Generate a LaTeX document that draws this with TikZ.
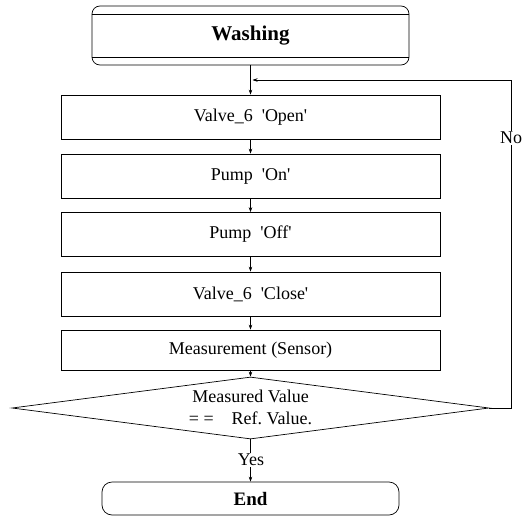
\documentclass[tikz,border=0pt]{standalone}
\usepackage{fontspec}
\setmainfont{Liberation Serif}
\usetikzlibrary{arrows.meta,shapes.geometric}
\newcommand{\sq}{\textquotesingle}
\begin{document}
\frenchspacing
\begin{tikzpicture}[x=1pt,y=-1pt,
  box/.style={draw, line width=0.7pt, minimum width=379pt, minimum height=44pt, inner sep=0pt,
    font=\fontsize{18}{22}\selectfont},
  arr/.style={-{Stealth[length=5pt,width=3.5pt]}, line width=0.6pt},
  lbl/.style={fill=white, inner sep=1.5pt, font=\fontsize{18}{22}\selectfont}]
\useasboundingbox (0,0) rectangle (529,516);
\node[draw, line width=0.7pt, rounded corners=8pt, minimum width=317pt, minimum height=59pt, inner sep=0pt,
  font=\fontsize{21}{24}\selectfont\bfseries] (wash) at (250.5,35.5) {Washing};
\draw[line width=0.5pt] ([yshift=-9pt]wash.north west) -- ([yshift=-9pt]wash.north east);
\draw[line width=0.8pt] ([yshift=8pt]wash.south west) -- ([yshift=8pt]wash.south east);
\node[box] (v6o) at (250.5,117) {Valve\_6\ \ \sq Open\sq};
\node[box] (pon) at (250.5,176) {Pump\ \ \sq On\sq};
\node[box] (poff) at (250.5,234.5) {Pump\ \ \sq Off\sq};
\node[box] (v6c) at (250.5,294) {Valve\_6\ \ \sq Close\sq};
\node[box, minimum height=40pt] (meas) at (250.5,350) {Measurement (Sensor)};
\node[draw, diamond, line width=0.7pt, minimum width=477pt, minimum height=62pt, inner sep=0pt] (dec) at (250.5,408) {};
\node[align=center, font=\fontsize{18}{22}\selectfont] (dect) at (250.5,407) {Measured Value\\= =\ \ \ \ Ref.\ Value.};
\node[draw, line width=0.7pt, rounded corners=10pt, minimum width=297pt, minimum height=33pt, inner sep=0pt,
  font=\fontsize{19}{22}\selectfont\bfseries] (end) at (250.5,498.5) {End};
\coordinate (join) at (252.5,80);
\coordinate (fbx) at (511,80);
\draw[arr] (wash) -- (v6o);
\draw[arr] (v6o) -- (pon);
\draw[arr] (pon) -- (poff);
\draw[arr] (poff) -- (v6c);
\draw[arr] (v6c) -- (meas);
\draw[arr] (meas) -- (dec);
\draw[arr] (dec.south) -- (end.north);
\draw[arr] (dec.east) -- (dec.east -| fbx) -- (fbx) -- (join);
\node[lbl] (no) at (511,138) {No};
\node[lbl] (yes) at (251,460) {Yes};
\end{tikzpicture}
\end{document}
